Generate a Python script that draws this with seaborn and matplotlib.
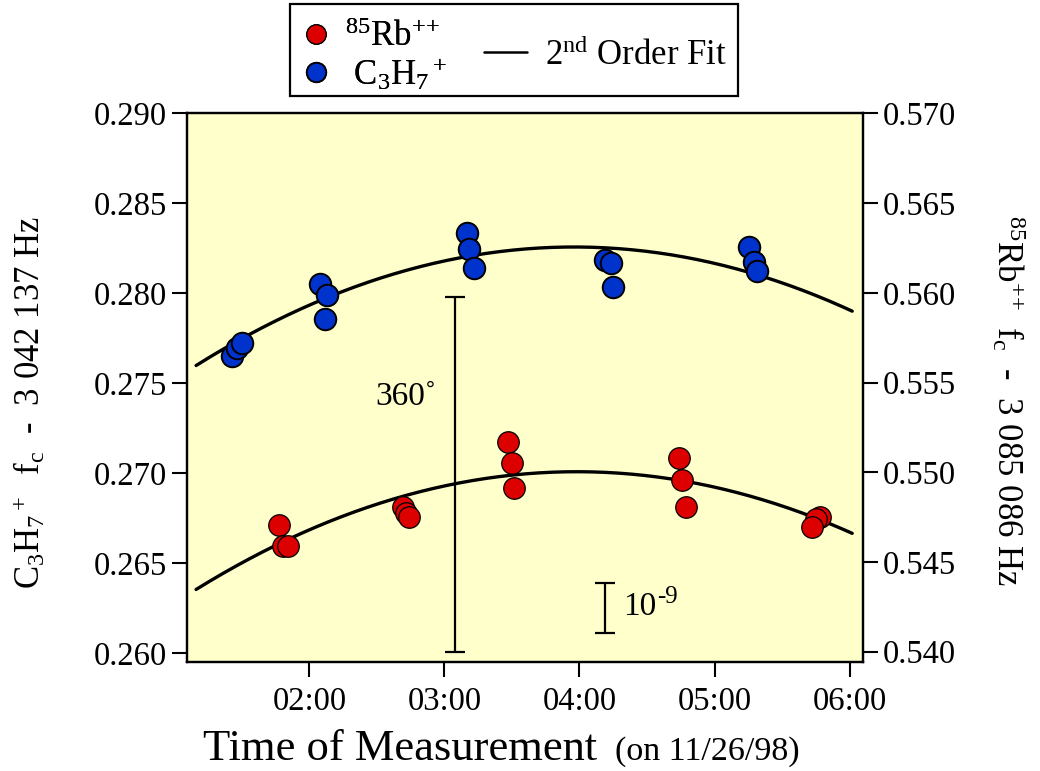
import matplotlib
matplotlib.use("Agg")
import matplotlib.pyplot as plt
from matplotlib.lines import Line2D
from matplotlib.patches import Rectangle
import numpy as np
import pandas as pd
import seaborn as sns

# time of measurement in hours (on 11/26/98)
c3h7_time = [1.424, 1.461, 1.502, 2.078, 2.132, 2.115, 3.164, 3.182, 3.221,
             4.191, 4.231, 4.246, 5.256, 5.295, 5.317]
c3h7_freq = [0.27651, 0.27694, 0.27725, 0.28051, 0.27990, 0.27858, 0.28333, 0.28244, 0.28138,
             0.28185, 0.28170, 0.28036, 0.28258, 0.28172, 0.28125]

rb_time = [1.776, 1.802, 1.839, 2.695, 2.715, 2.739, 3.468, 3.498, 3.515,
           4.740, 4.762, 4.789, 5.782, 5.752, 5.720]
rb_freq = [0.54704, 0.54590, 0.54590, 0.54808, 0.54771, 0.54749, 0.55168, 0.55049, 0.54912,
           0.55079, 0.54958, 0.54804, 0.54749, 0.54740, 0.54693]

# 2nd order fits, vertex form: curvature, vertex time (h), vertex value
c3h7_fit = [-8.4e-4, 3.96, 0.28257]
rb_fit = [-8.25e-4, 3.98, 0.55003]
fit_range = [1.16, 6.02]

xtick_hours = [2, 3, 4, 5, 6]
xtick_labels = ["02:00", "03:00", "04:00", "05:00", "06:00"]
left_ticks = [0.260, 0.265, 0.270, 0.275, 0.280, 0.285, 0.290]
right_ticks = [0.540, 0.545, 0.550, 0.555, 0.560, 0.565, 0.570]

# scale bars (left axis units)
bar360 = (3.078, 0.26007, 0.27979)
bar_ppb = (4.189, 0.26113, 0.26393)

RED = "#dd0000"
BLUE = "#0033cc"
YELLOW = "#ffffcc"

sns.set_style("ticks")
plt.rcParams["font.family"] = ["Liberation Serif", "DejaVu Serif"]
plt.rcParams["mathtext.fontset"] = "custom"
plt.rcParams["mathtext.rm"] = "Liberation Serif"
plt.rcParams["mathtext.it"] = "Liberation Serif:italic"
plt.rcParams["mathtext.bf"] = "Liberation Serif:bold"
for k in ["text.color", "axes.labelcolor", "xtick.color", "ytick.color", "axes.edgecolor"]:
    plt.rcParams[k] = "black"


def fit_curve(p):
    tt = np.linspace(fit_range[0], fit_range[1], 200)
    return pd.DataFrame({"t": tt, "f": p[0] * (tt - p[1]) ** 2 + p[2]})


df_c = pd.DataFrame({"t": c3h7_time, "f": c3h7_freq})
df_r = pd.DataFrame({"t": rb_time, "f": rb_freq})

fig = plt.figure(figsize=(10.4, 7.71), dpi=100)
ax = fig.add_axes([0.1795, 0.1414, 0.6506, 0.7117])
ax.set_facecolor(YELLOW)
ax2 = ax.twinx()

sns.lineplot(data=fit_curve(c3h7_fit), x="t", y="f", ax=ax, color="black", lw=2.4, zorder=2)
sns.scatterplot(data=df_c, x="t", y="f", ax=ax, color=BLUE, s=240,
                edgecolor="black", linewidth=1.4, zorder=3)
sns.lineplot(data=fit_curve(rb_fit), x="t", y="f", ax=ax2, color="black", lw=2.4, zorder=2)
sns.scatterplot(data=df_r, x="t", y="f", ax=ax2, color=RED, s=240,
                edgecolor="black", linewidth=0.9, zorder=3)

# scale bars
for (bx, y0, y1) in [bar360, bar_ppb]:
    ax.errorbar([bx], [(y0 + y1) / 2], yerr=[(y1 - y0) / 2], color="black",
                lw=1.6, capsize=7, capthick=1.6, zorder=1)
ax.text(2.71, 0.27423, "360˚", fontsize=24, ha="center", va="center")
ax.text(4.32, 0.26256, "10", fontsize=24, ha="left", va="center")
ax.annotate("-9", xy=(4.32, 0.26256), xytext=(34, 10), textcoords="offset pixels",
            fontsize=18, ha="left", va="center")

ax.set_xlim(1.0904, 6.1022)
ax.set_ylim(0.259515, 0.290)
ax2.set_ylim(0.53943, 0.56993)
ax.set_xticks(xtick_hours)
ax.set_xticklabels(xtick_labels)
ax.set_yticks(left_ticks)
ax.set_yticklabels([f"{v:.3f}" for v in left_ticks])
ax2.set_yticks(right_ticks)
ax2.set_yticklabels([f"{v:.3f}" for v in right_ticks])

for a in (ax, ax2):
    a.tick_params(direction="out", length=11, width=1.5, labelsize=23.5, pad=3)
    for sp in a.spines.values():
        sp.set_linewidth(1.6)
        sp.set_visible(True)
ax.tick_params(axis="x", pad=7)

ax.set_xlabel("")
ax2.set_xlabel("")
ax.set_ylabel("")
ax2.set_ylabel("")
fig.text(30 / 1040, 1 - 402 / 771, "C$_3$H$_7$$^+$  f$_\\mathrm{c}$  -  3 042 137 Hz",
         fontsize=25, rotation=90, ha="center", va="center")
fig.text(1008 / 1040, 1 - 400 / 771, "$^{85}$Rb$^{{+}{+}}$  f$_\\mathrm{c}$  -  3 085 086 Hz",
         fontsize=25, rotation=270, ha="center", va="center")

fig.text(0.195, 0.014, "Time of Measurement", fontsize=32, ha="left", va="baseline")
fig.text(0.591, 0.014, "(on 11/26/98)", fontsize=24.5, ha="left", va="baseline")

# legend box
fig.patches.append(Rectangle((0.2788, 0.8755), 0.4308, 0.1193, transform=fig.transFigure,
                             fill=False, edgecolor="black", lw=1.6))
h_rb = Line2D([], [], ls="", marker="o", ms=14, mfc=RED, mec="black", mew=0.9)
h_c = Line2D([], [], ls="", marker="o", ms=14, mfc=BLUE, mec="black", mew=1.3)
leg1 = fig.legend([h_rb, h_c], ["$^{85}$Rb$^{{+}{+}}$", " C$_3$H$_7$$^+$"], loc="center left",
                  bbox_to_anchor=(0.2735, 0.926), frameon=False, fontsize=25,
                  handlelength=0.8, handletextpad=0.45, labelspacing=0.05, borderpad=0)
h_fit = Line2D([], [], color="black", lw=1.8)
leg2 = fig.legend([h_fit], ["2$^\\mathrm{nd}$ Order Fit"], loc="center left",
                  bbox_to_anchor=(0.4485, 0.928), frameon=False, fontsize=25,
                  handlelength=1.25, handletextpad=0.5, borderpad=0)
fig.add_artist(leg1)

fig.savefig("out.png", dpi=100)
